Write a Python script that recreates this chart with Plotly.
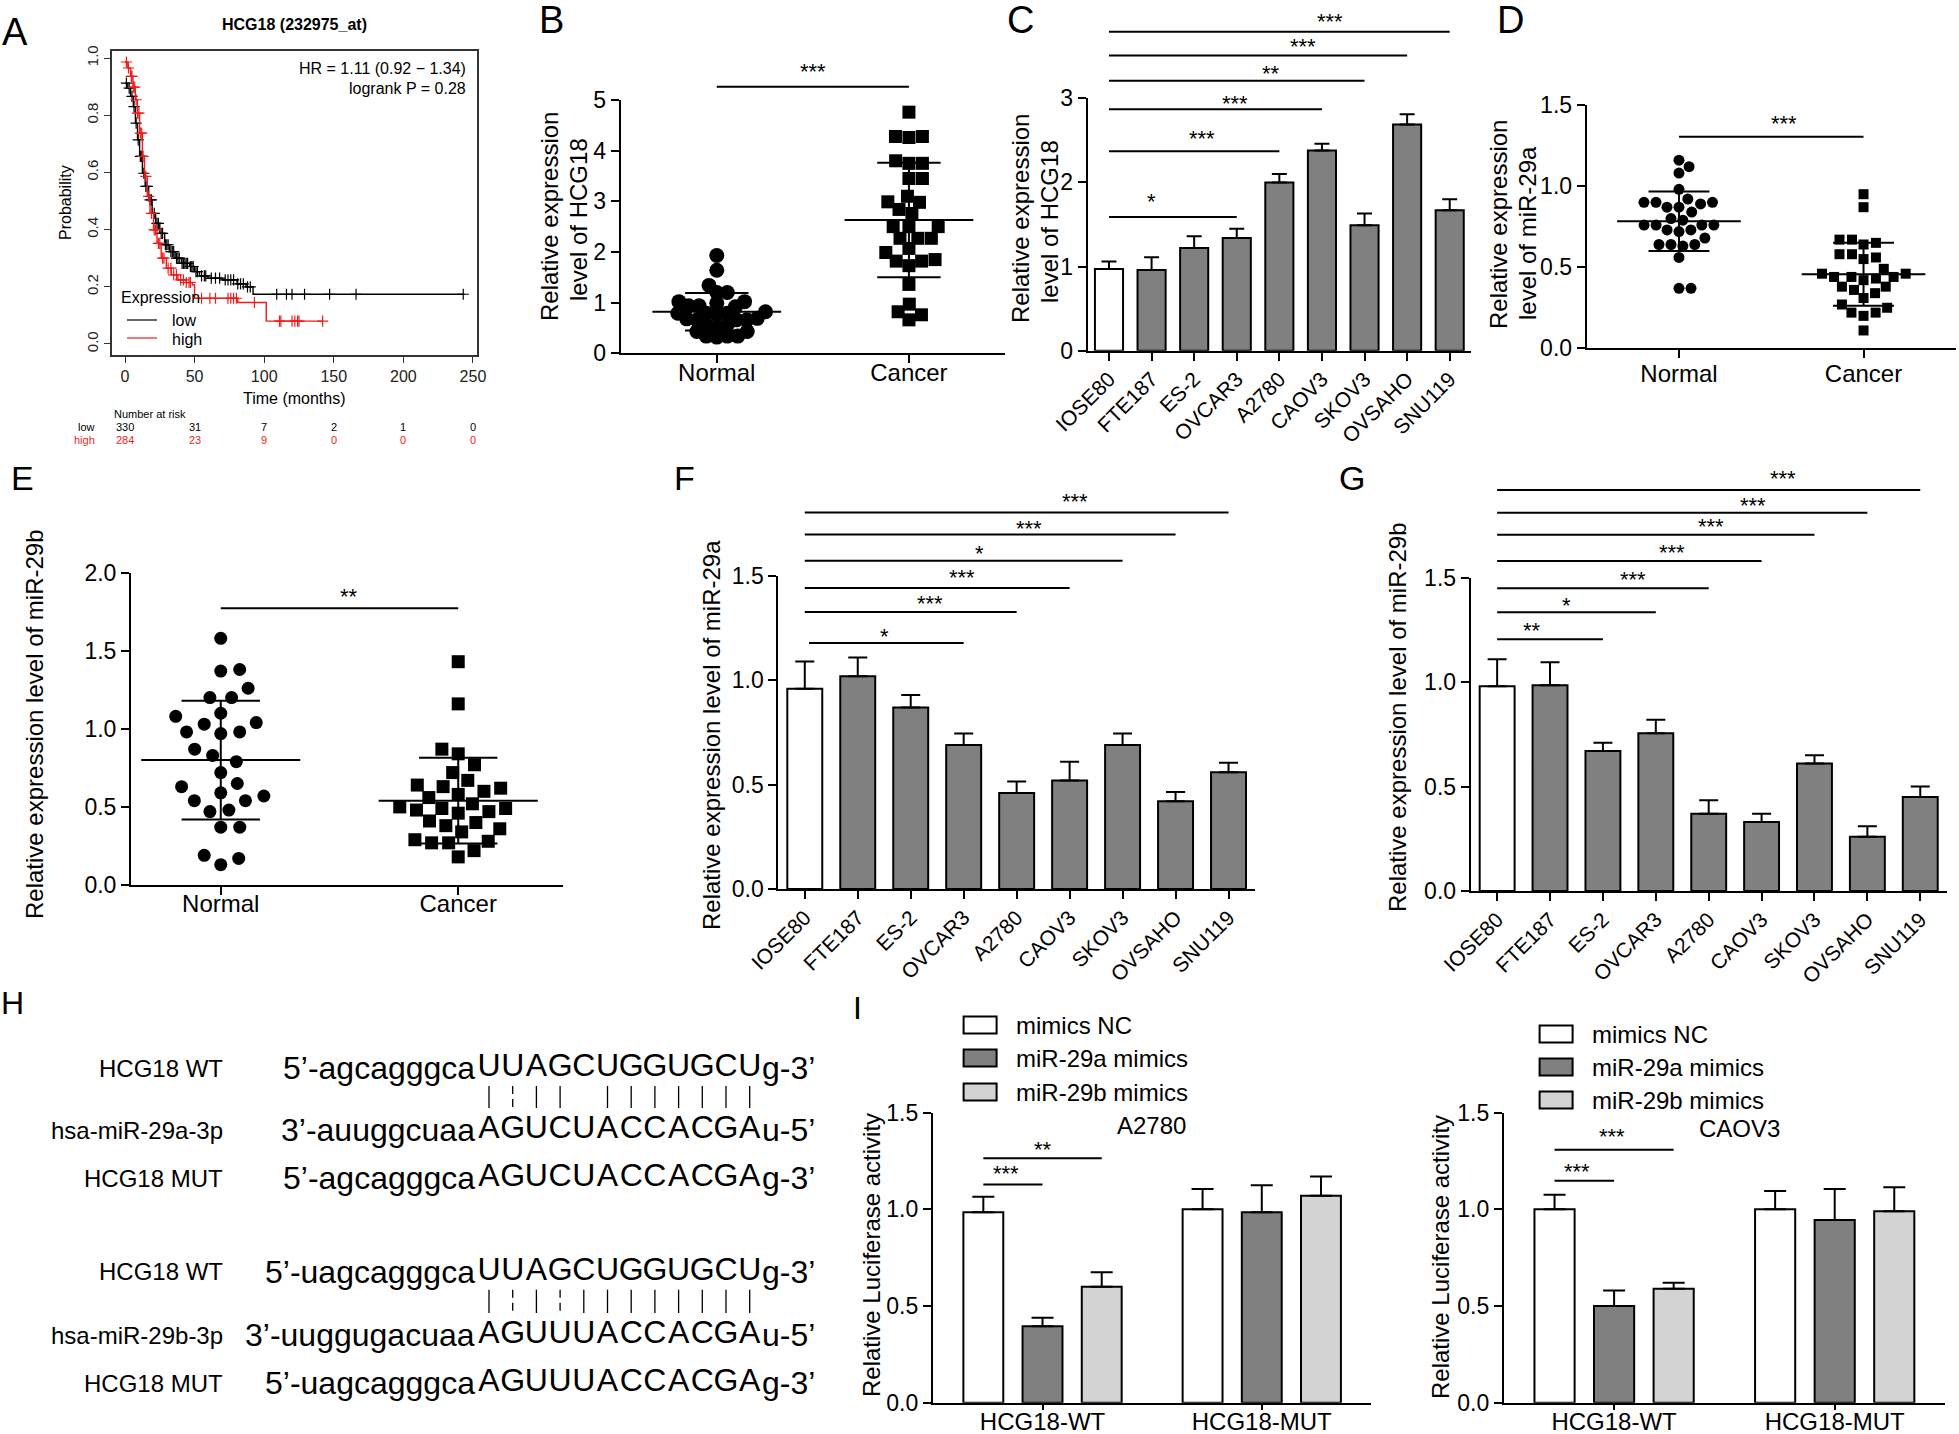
import plotly.graph_objects as go

W, H = 1959, 1434
FONT = "Liberation Sans, Arial, Helvetica, sans-serif"
GRAY = "#808080"
LIGHT = "#d3d3d3"

# ======================= DATA =======================
# --- Panel A : Kaplan-Meier (HCG18 232975_at) ---
km_low_t = [0, 2, 4, 6, 7.5, 9, 10.5, 12.5, 14.5, 17, 19.5, 22, 25, 28.5, 32, 36, 40.5, 46.5,
            50, 53.5, 59.5, 70, 80.5, 87, 92, 244]
km_low_s = [0.912, 0.895, 0.866, 0.83, 0.772, 0.714, 0.656, 0.597, 0.551, 0.504, 0.457, 0.422,
            0.387, 0.347, 0.323, 0.300, 0.282, 0.271, 0.253, 0.238, 0.23, 0.224, 0.21, 0.20,
            0.174, 0.174]
km_high_t = [0, 2, 4, 5.7, 7.4, 8.9, 10.5, 12.5, 14, 16, 18, 20.5, 23, 26, 29.7, 33.3, 38, 44,
             48.4, 50, 81, 101.5, 142]
km_high_s = [0.986, 0.965, 0.936, 0.898, 0.854, 0.807, 0.737, 0.656, 0.586, 0.516, 0.457, 0.399,
             0.352, 0.30, 0.265, 0.242, 0.224, 0.215, 0.207, 0.16, 0.145, 0.08, 0.08]
cens_low_t = [1, 3, 5, 6.5, 8, 9.5, 11, 12, 13.5, 15, 16, 18, 19, 21, 23, 24, 26, 27, 29, 30, 31,
              33, 34, 35, 37, 38, 39, 41, 42, 43, 44, 45, 47, 48, 49, 51, 52, 55, 57, 58, 62, 65,
              68, 72, 74, 76, 78, 81, 83, 85, 88, 90, 109, 116, 120, 129, 147, 166, 243]
cens_high_t = [1, 2.5, 4.5, 5, 6, 7, 8, 9, 10, 11, 12, 13, 15, 17, 19, 21, 22, 24, 25, 27, 28,
               31, 33, 35, 37, 40, 42, 44, 46, 47, 55, 61, 65, 74, 76, 78, 80, 93, 111, 112, 120,
               122, 124, 125, 142]
risk_times = [0, 50, 100, 150, 200, 250]
risk_low = [330, 31, 7, 2, 1, 0]
risk_high = [284, 23, 9, 0, 0, 0]

# --- Scatter panels ---
groups_nc = ["Normal", "Cancer"]
b_normal = [1.93, 1.64, 1.34, 1.20, 1.20, 1.02, 1.02, 0.92, 0.99, 0.94, 0.94, 0.76, 0.82, 0.79,
            0.79, 0.79, 0.66, 0.66, 0.69, 0.66, 0.68, 0.53, 0.56, 0.56, 0.43, 0.43, 0.34, 0.32,
            0.34, 0.34]
b_cancer = [4.76, 4.28, 4.26, 4.28, 3.75, 3.75, 3.80, 3.45, 3.45, 3.10, 2.98, 2.99, 2.76, 2.84,
            2.50, 2.50, 2.50, 2.27, 2.27, 2.27, 2.07, 1.85, 1.82, 1.82, 1.99, 1.73, 1.36, 0.82,
            0.97, 0.76, 0.66]
b_mean = [0.82, 2.63]
b_sd = [0.37, 1.13]

d_normal = [1.16, 1.12, 1.08, 0.98, 0.92, 0.90, 0.90, 0.90, 0.89, 0.87, 0.87, 0.84, 0.80, 0.79,
            0.76, 0.76, 0.76, 0.76, 0.73, 0.73, 0.72, 0.68, 0.64, 0.64, 0.64, 0.63, 0.56, 0.37,
            0.37]
d_cancer = [0.95, 0.87, 0.67, 0.67, 0.65, 0.64, 0.58, 0.58, 0.56, 0.55, 0.49, 0.46, 0.46, 0.44,
            0.44, 0.44, 0.43, 0.42, 0.38, 0.38, 0.36, 0.34, 0.31, 0.27, 0.25, 0.22, 0.22, 0.20,
            0.11]
d_mean = [0.783, 0.456]
d_sd = [0.183, 0.194]

e_normal = [1.58, 1.38, 1.37, 1.26, 1.20, 1.20, 1.10, 1.04, 1.03, 1.08, 0.98, 0.97, 0.98, 0.87,
            0.79, 0.83, 0.72, 0.63, 0.65, 0.57, 0.59, 0.54, 0.54, 0.48, 0.47, 0.37, 0.37, 0.19,
            0.17, 0.13]
e_cancer = [1.43, 1.16, 0.87, 0.84, 0.77, 0.72, 0.67, 0.64, 0.63, 0.62, 0.60, 0.58, 0.56, 0.52,
            0.50, 0.49, 0.49, 0.48, 0.47, 0.46, 0.41, 0.40, 0.38, 0.36, 0.34, 0.29, 0.28, 0.27,
            0.27, 0.22, 0.18]
e_mean = [0.80, 0.54]
e_sd = [0.38, 0.275]

# --- Bar panels (cell lines) ---
cell_lines = ["IOSE80", "FTE187", "ES-2", "OVCAR3", "A2780", "CAOV3", "SKOV3", "OVSAHO", "SNU119"]
c_vals = [0.97, 0.96, 1.22, 1.34, 2.00, 2.38, 1.49, 2.69, 1.67]
c_err = [0.09, 0.15, 0.14, 0.11, 0.10, 0.08, 0.14, 0.12, 0.13]
f_vals = [0.96, 1.02, 0.87, 0.69, 0.46, 0.52, 0.69, 0.42, 0.56]
f_err = [0.13, 0.09, 0.06, 0.055, 0.055, 0.09, 0.055, 0.045, 0.045]
g_vals = [0.98, 0.985, 0.67, 0.755, 0.37, 0.33, 0.61, 0.26, 0.45]
g_err = [0.13, 0.11, 0.04, 0.065, 0.065, 0.04, 0.04, 0.05, 0.05]

# --- Luciferase (I) ---
i_groups = ["HCG18-WT", "HCG18-MUT"]
i_series = ["mimics NC", "miR-29a mimics", "miR-29b mimics"]
i1_vals = [[0.985, 1.00], [0.395, 0.985], [0.60, 1.07]]
i1_err = [[0.08, 0.105], [0.045, 0.14], [0.075, 0.10]]
i2_vals = [[1.00, 1.00], [0.50, 0.945], [0.59, 0.99]]
i2_err = [[0.075, 0.095], [0.08, 0.16], [0.03, 0.125]]

# --- significance comparisons (index_from, index_to, bar height) and labels (text, x, y) ---
sig_b = [(0, 1, 5.26)];  lab_b = [("***", 0.5, 5.66)]
sig_c = [(0, 8, 3.79), (0, 7, 3.51), (0, 6, 3.21), (0, 5, 2.87), (0, 4, 2.37), (0, 3, 1.59)]
lab_c = [("***", 5.18, 3.97), ("***", 4.55, 3.67), ("**", 3.80, 3.35), ("***", 2.95, 3.0),
         ("***", 2.19, 2.58), ("*", 1.0, 1.83)]
sig_d = [(0, 1, 1.305)];  lab_d = [("***", 0.57, 1.415)]
sig_e = [(0, 1, 1.772)];  lab_e = [("**", 0.54, 1.88)]
sig_f = [(0, 8, 1.804), (0, 7, 1.699), (0, 6, 1.573), (0, 5, 1.442), (0, 4, 1.327), (0.08, 3, 1.179)]
lab_f = [("***", 5.10, 1.88), ("***", 4.24, 1.753), ("*", 3.30, 1.633), ("***", 2.96, 1.517),
         ("***", 2.36, 1.394), ("*", 1.51, 1.234)]
sig_g = [(0, 8, 1.92), (0, 7, 1.811), (0, 6, 1.706), (0, 5, 1.580), (0, 4, 1.449), (0, 3, 1.334),
         (0, 2, 1.205)]
lab_g = [("***", 5.41, 1.999), ("***", 4.83, 1.869), ("***", 4.04, 1.771), ("***", 3.31, 1.645),
         ("***", 2.56, 1.513), ("*", 1.31, 1.393), ("**", 0.65, 1.273)]
sig_i1 = [((0, 0), (0, 2), 1.264), ((0, 0), (0, 1), 1.129)]
lab_i1 = [("**", 0.0, 1.336), ("***", -0.167, 1.212)]
sig_i2 = [((0, 0), (0, 2), 1.309), ((0, 0), (0, 1), 1.148)]
lab_i2 = [("***", -0.01, 1.402), ("***", -0.17, 1.221)]

# --- Panel H sequences ---
h_labels = [["HCG18 WT", "hsa-miR-29a-3p", "HCG18 MUT"],
            ["HCG18 WT", "hsa-miR-29b-3p", "HCG18 MUT"]]
h_seqs = [[("5’-agcagggca", "UUAGCUGGUGCU", "g-3’"),
           ("3’-auuggcuaa", "AGUCUACCACGA", "u-5’"),
           ("5’-agcagggca", "AGUCUACCACGA", "g-3’")],
          [("5’-uagcagggca", "UUAGCUGGUGCU", "g-3’"),
           ("3’-uuggugacuaa", "AGUUUACCACGA", "u-5’"),
           ("5’-uagcagggca", "AGUUUACCACGA", "g-3’")]]
h_pairs = ["|:||.|||||||", "|:|:||||||||"]

# ======================= HELPERS =======================
fig = go.Figure()
layout = {}
ann = []
shapes = []


def xd(a, b):
    return [a / W, b / W]


def yd(top, bot):
    return [1 - bot / H, 1 - top / H]


def ref(letter, n):
    return letter if n == 1 else f"{letter}{n}"


def axname(letter, n):
    return f"{letter}axis" if n == 1 else f"{letter}axis{n}"


def txt(text, x, y, size=24, xanchor="center", yanchor="middle", angle=0, color="black",
        xref="paper", yref="paper", yshift=0):
    if xref == "paper":
        x = x / W
    if yref == "paper":
        y = 1 - y / H
    ann.append(dict(text=text, x=x, y=y, xref=xref, yref=yref, showarrow=False,
                    xanchor=xanchor, yanchor=yanchor, textangle=angle, yshift=yshift,
                    font=dict(family=FONT, size=size, color=color)))


GP = dict(showline=True, linecolor="black", linewidth=2, ticks="outside",
          tickwidth=2, tickcolor="black", showgrid=False, zeroline=False, fixedrange=True,
          automargin=False)


def gp_axes(n, xpx, ypx, xr, yr, yticks, yfmt, xvals, xtext, xangle=0, xsize=24, ysize=23,
            xstand=0, xticklen=8):
    layout[axname("x", n)] = dict(GP, domain=xd(*xpx), range=xr, anchor=ref("y", n),
                                  tickmode="array", tickvals=xvals, ticktext=xtext,
                                  tickangle=xangle, ticklen=xticklen, ticklabelstandoff=xstand,
                                  tickfont=dict(family=FONT, size=xsize, color="black"))
    layout[axname("y", n)] = dict(GP, domain=yd(*ypx), range=yr, anchor=ref("x", n),
                                  tickmode="array", tickvals=yticks, ticklen=8,
                                  ticktext=[yfmt.format(v) for v in yticks],
                                  tickfont=dict(family=FONT, size=ysize, color="black"))


def overlay(m, n, top_px, ypx, ytop):
    span = ytop * (ypx[1] - top_px) / (ypx[1] - ypx[0])
    layout[axname("y", m)] = dict(domain=yd(top_px, ypx[1]), range=[0, span],
                                  anchor=ref("x", n), visible=False, fixedrange=True,
                                  automargin=False)


def sig(n, ym, lines, labels, size=22):
    xs, ys = [], []
    for a, b, h in lines:
        xs += [a, b, None]
        ys += [h, h, None]
    fig.add_trace(go.Scatter(x=xs, y=ys, mode="lines", line=dict(color="black", width=2),
                             xaxis=ref("x", n), yaxis=ref("y", ym), showlegend=False,
                             hoverinfo="skip"))
    for t, x, y in labels:
        txt(t, x, y, size=size, xref=ref("x", n), yref=ref("y", ym), yshift=-5)


def swarm(vals, center, ppu_x, ppu_y, d):
    """compact beeswarm: positions in pixel space, returned in axis units"""
    order = sorted(range(len(vals)), key=lambda i: vals[i])
    placed = []
    xs = [center] * len(vals)
    for i in order:
        y = vals[i] * ppu_y
        near = [(px, py) for px, py in placed if abs(py - y) < d]
        cands = [0.0]
        for px, py in near:
            w = (d * d - (py - y) ** 2) ** 0.5
            cands += [px + w + 0.01, px - w - 0.01]
        best = 0.0
        for c in sorted(cands, key=lambda c: (round(abs(c), 3), -c)):
            if all((c - px) ** 2 + (y - py) ** 2 >= d * d - 1e-6 for px, py in near):
                best = c
                break
        placed.append((best, y))
        xs[i] = center + best / ppu_x
    return xs


def dot_panel(n, data, means, sds, symbols, sizes, xpx, ypx, xr, yr, gap_px):
    ppu_y = (ypx[1] - ypx[0]) / (yr[1] - yr[0])
    ppu_x = (xpx[1] - xpx[0]) / (xr[1] - xr[0])
    for gi, vals in enumerate(data):
        xs = swarm(vals, gi, ppu_x, ppu_y, gap_px[gi])
        fig.add_trace(go.Scatter(x=xs, y=vals, mode="markers", cliponaxis=False,
                                 marker=dict(symbol=symbols[gi], size=sizes[gi], color="black",
                                             line=dict(width=0)),
                                 xaxis=ref("x", n), yaxis=ref("y", n), showlegend=False,
                                 hoverinfo="skip"))
        m, s = means[gi], sds[gi]
        fig.add_trace(go.Scatter(
            x=[gi - 0.335, gi + 0.335, None, gi - 0.165, gi + 0.165, None,
               gi - 0.165, gi + 0.165, None, gi, gi],
            y=[m, m, None, m + s, m + s, None, m - s, m - s, None, m - s, m + s],
            mode="lines", line=dict(color="black", width=2), xaxis=ref("x", n),
            yaxis=ref("y", n), showlegend=False, hoverinfo="skip"))


def bar_panel(n, vals, errs, cap):
    fig.add_trace(go.Bar(x=list(range(len(vals))), y=vals, width=0.66,
                         marker=dict(color=["white"] + [GRAY] * (len(vals) - 1),
                                     line=dict(color="black", width=2)),
                         error_y=dict(type="data", array=errs, arrayminus=[0] * len(errs),
                                      symmetric=False, color="black", thickness=2, width=cap),
                         xaxis=ref("x", n), yaxis=ref("y", n), showlegend=False,
                         hoverinfo="skip"))


def step_at(ts, ss, t):
    val = ss[0]
    for tt, sv in zip(ts, ss):
        if tt <= t:
            val = sv
        else:
            break
    return val


# ======================= PANEL A =======================
A_X, A_Y = (112, 477), (51, 355)
AXC = "#333333"
layout["xaxis"] = dict(domain=xd(*A_X), range=[-9.34, 252.9], anchor="y", showline=True,
                       mirror=True, linecolor=AXC, linewidth=1.5, ticks="outside", ticklen=6,
                       tickwidth=1.2, tickcolor=AXC, showgrid=False, zeroline=False,
                       tickvals=risk_times, fixedrange=True, automargin=False,
                       tickfont=dict(family=FONT, size=16, color="#222"))
yt_a = [0, 0.2, 0.4, 0.6, 0.8, 1.0]
layout["yaxis"] = dict(domain=yd(*A_Y), range=[-0.0385, 1.0245], anchor="x", showline=True,
                       mirror=True, linecolor=AXC, linewidth=1.5, ticks="outside", ticklen=6,
                       tickwidth=1.2, tickcolor=AXC, showgrid=False, zeroline=False,
                       tickvals=yt_a, ticktext=[f"{v:.1f}" for v in yt_a], tickangle=-90,
                       fixedrange=True, automargin=False,
                       tickfont=dict(family=FONT, size=15, color="#222"))
for ts, ss, cens, col in [(km_low_t, km_low_s, cens_low_t, "black"),
                          (km_high_t, km_high_s, cens_high_t, "#ee1c1c")]:
    fig.add_trace(go.Scatter(x=ts, y=ss, mode="lines", line=dict(color=col, width=1.4, shape="hv"),
                             xaxis="x", yaxis="y", showlegend=False, hoverinfo="skip"))
    fig.add_trace(go.Scatter(x=cens, y=[step_at(ts, ss, t) for t in cens], mode="markers",
                             marker=dict(symbol="cross-thin", size=8, line=dict(width=1.2, color=col)),
                             xaxis="x", yaxis="y", showlegend=False, hoverinfo="skip"))
txt("<b>HCG18 (232975_at)</b>", 294, 25, size=16)
txt("HR = 1.11 (0.92 − 1.34)", 468, 68, size=16, xanchor="right")
txt("logrank P = 0.28", 468, 88, size=16, xanchor="right")
txt("Probability", 65, 203, size=16, angle=-90)
txt("Time (months)", 294, 399, size=16)
txt("Expression", 119, 297, size=16, xanchor="left")
txt("low", 170, 320, size=16, xanchor="left")
txt("high", 170, 339, size=16, xanchor="left")
shapes.append(dict(type="line", xref="paper", yref="paper", x0=127 / W, x1=157 / W,
                   y0=1 - 320 / H, y1=1 - 320 / H, line=dict(color="black", width=1.2)))
shapes.append(dict(type="line", xref="paper", yref="paper", x0=127 / W, x1=157 / W,
                   y0=1 - 338 / H, y1=1 - 338 / H, line=dict(color="#ee1c1c", width=1.2)))
txt("Number at risk", 112, 414, size=11, xanchor="left")
txt("low", 97, 427, size=11, xanchor="right")
txt("high", 97, 440, size=11, xanchor="right", color="#ee1c1c")
for t, lo, hi in zip(risk_times, risk_low, risk_high):
    txt(str(lo), t, 427, size=11, xref="x")
    txt(str(hi), t, 440, size=11, xref="x", color="#ee1c1c")

# ======================= PANEL B =======================
B_X, B_Y = (620.7, 1005), (100, 353.3)
gp_axes(2, B_X, B_Y, [-0.5, 1.5], [0, 5], [0, 1, 2, 3, 4, 5], "{:.0f}", [0, 1], groups_nc,
        xstand=-11)
dot_panel(2, [b_normal, b_cancer], b_mean, b_sd, ["circle", "square"], [15, 13],
          B_X, B_Y, [-0.5, 1.5], [0, 5], [10.5, 13.5])
overlay(12, 2, 50, B_Y, 5)
sig(2, 12, sig_b, lab_b)
txt("Relative expression", 550, 217, angle=-90)
txt("level of HCG18", 578, 220, angle=-90)

# ======================= PANEL C =======================
C_X, C_Y = (1087.7, 1471), (98.3, 350.7)
gp_axes(3, C_X, C_Y, [-0.5, 8.5], [0, 3], [0, 1, 2, 3], "{:.0f}", list(range(9)), cell_lines,
        xangle=-45, xsize=21, xstand=-2)
bar_panel(3, c_vals, c_err, 7.5)
overlay(11, 3, 4, C_Y, 3)
sig(3, 11, sig_c, lab_c)
txt("Relative expression", 1020, 219, angle=-90)
txt("level of HCG18", 1049, 222, angle=-90)

# ======================= PANEL D =======================
D_X, D_Y = (1586.7, 1955.8), (105, 348.3)
gp_axes(4, D_X, D_Y, [-0.5, 1.5], [0, 1.5], [0, 0.5, 1.0, 1.5], "{:.1f}", [0, 1], groups_nc,
        xstand=-5)
dot_panel(4, [d_normal, d_cancer], d_mean, d_sd, ["circle", "square"], [11, 10],
          D_X, D_Y, [-0.5, 1.5], [0, 1.5], [12, 12.5])
sig(4, 4, sig_d, lab_d)
txt("Relative expression", 1498, 225, angle=-90)
txt("level of miR-29a", 1527, 233, angle=-90)

# ======================= PANEL E =======================
E_X, E_Y = (131, 562.7), (572.7, 885)
E_XR = [-0.378, 1.44]
gp_axes(5, E_X, E_Y, E_XR, [0, 2], [0, 0.5, 1.0, 1.5, 2.0], "{:.1f}", [0, 1], groups_nc,
        xstand=-12)
dot_panel(5, [e_normal, e_cancer], e_mean, e_sd, ["circle", "square"], [13, 13],
          E_X, E_Y, E_XR, [0, 2], [19, 17])
sig(5, 5, sig_e, lab_e)
txt("Relative expression level of miR-29b", 34, 724, angle=-90)

# ======================= PANEL F =======================
F_X, F_Y = (778.3, 1255), (576, 889)
gp_axes(6, F_X, F_Y, [-0.5, 8.5], [0, 1.5], [0, 0.5, 1.0, 1.5], "{:.1f}", list(range(9)),
        cell_lines, xangle=-45, xsize=21, xstand=-2)
bar_panel(6, f_vals, f_err, 9.5)
overlay(13, 6, 478, F_Y, 1.5)
sig(6, 13, sig_f, lab_f)
txt("Relative expression level of miR-29a", 711, 735, angle=-90)

# ======================= PANEL G =======================
G_X, G_Y = (1470.7, 1946.7), (577.7, 891)
gp_axes(7, G_X, G_Y, [-0.5, 8.5], [0, 1.5], [0, 0.5, 1.0, 1.5], "{:.1f}", list(range(9)),
        cell_lines, xangle=-45, xsize=21, xstand=-2)
bar_panel(7, g_vals, g_err, 9.5)
overlay(14, 7, 462, G_Y, 1.5)
sig(7, 14, sig_g, lab_g)
txt("Relative expression level of miR-29b", 1397, 717, angle=-90)

# ======================= PANEL I =======================
OFF = 0.27
BW = 0.182
fills = ["white", GRAY, LIGHT]


def lucif_panel(n, xpx, vals, errs, sigs, labs, cell, cell_xy, leg_x, leg_y):
    I_Y = (1112.7, 1402.7)
    gp_axes(n, xpx, I_Y, [-0.5, 1.5], [0, 1.5], [0, 0.5, 1.0, 1.5], "{:.1f}", [0, 1], i_groups,
            xstand=-9, xticklen=5)
    for k in range(3):
        fig.add_trace(go.Bar(x=[0, 1], y=vals[k], width=BW, offset=(k - 1) * OFF - BW / 2,
                             marker=dict(color=fills[k], line=dict(color="black", width=2)),
                             error_y=dict(type="data", array=errs[k], arrayminus=[0, 0],
                                          symmetric=False, color="black", thickness=2, width=11),
                             xaxis=ref("x", n), yaxis=ref("y", n), showlegend=False,
                             hoverinfo="skip"))
    lines = [(g0 + (s0 - 1) * OFF, g1 + (s1 - 1) * OFF, h) for (g0, s0), (g1, s1), h in sigs]
    sig(n, n, lines, labs)
    txt(cell, cell_xy[0], cell_xy[1], xref=ref("x", n), yref=ref("y", n))
    for k, name in enumerate(i_series):
        cy = leg_y[k]
        shapes.append(dict(type="rect", xref="paper", yref="paper", x0=leg_x / W,
                           x1=(leg_x + 33) / W, y0=1 - (cy + 8.5) / H, y1=1 - (cy - 8.5) / H,
                           fillcolor=fills[k], line=dict(color="black", width=2)))
        txt(name, leg_x + 50, cy, xanchor="left")


lucif_panel(8, (932.9, 1371.4), i1_vals, i1_err, sig_i1, lab_i1, "A2780", (0.496, 1.433),
            963.6, [1025, 1058, 1092])
txt("Relative Luciferase activity", 871, 1255, angle=-90)
lucif_panel(9, (1503.8, 1945), i2_vals, i2_err, sig_i2, lab_i2, "CAOV3", (0.57, 1.416),
            1539.6, [1034, 1067, 1100])
txt("Relative Luciferase activity", 1440, 1257, angle=-90)

# ======================= PANEL H =======================
H_X0, H_STEP = 489, 23.7         # pixel centre of first paired letter, letter pitch
H_ROW_Y = [[83, 145, 193], [286.7, 350, 398.3]]
layout["xaxis10"] = dict(domain=xd(0, 850), range=[-H_X0 / H_STEP, (850 - H_X0) / H_STEP],
                         anchor="y10", visible=False, fixedrange=True, automargin=False)
layout["yaxis10"] = dict(domain=yd(985, 1434), range=[449, 0], anchor="x10", visible=False,
                         fixedrange=True, automargin=False)
SEQ = 32
for b in range(2):
    for r in range(3):
        yrow = H_ROW_Y[b][r]
        pre, core, suf = h_seqs[b][r]
        txt(h_labels[b][r], 225, 985 + yrow, size=24, xanchor="right")
        txt(pre, -0.52, yrow, size=SEQ, xanchor="right", xref="x10", yref="y10")
        txt(suf, len(core) - 0.55, yrow, size=SEQ, xanchor="left", xref="x10", yref="y10")
        fig.add_trace(go.Scatter(x=list(range(len(core))), y=[yrow] * len(core), mode="text",
                                 text=list(core), textposition="middle center",
                                 textfont=dict(family=FONT, size=SEQ, color="black"),
                                 cliponaxis=False, xaxis="x10", yaxis="y10", showlegend=False,
                                 hoverinfo="skip"))
    y0, y1 = H_ROW_Y[b][0] + 18, H_ROW_Y[b][1] - 22
    solid_x, solid_y, dash_x, dash_y = [], [], [], []
    for i, ch in enumerate(h_pairs[b]):
        if ch == "|":
            solid_x += [i, i, None]; solid_y += [y0, y1, None]
        elif ch == ":":
            dash_x += [i, i, None]; dash_y += [y0, y1, None]
    fig.add_trace(go.Scatter(x=solid_x, y=solid_y, mode="lines", line=dict(color="black", width=1.3),
                             xaxis="x10", yaxis="y10", showlegend=False, hoverinfo="skip"))
    fig.add_trace(go.Scatter(x=dash_x, y=dash_y, mode="lines",
                             line=dict(color="black", width=1.3, dash="8px,5px"),
                             xaxis="x10", yaxis="y10", showlegend=False, hoverinfo="skip"))

# ======================= PANEL LETTERS =======================
for letter, x, y, s in [("A", 15, 32, 38), ("B", 551, 20, 38), ("C", 1020, 20, 38),
                        ("D", 1510, 20, 38), ("E", 22, 478, 34), ("F", 684, 478, 34),
                        ("G", 1352, 478, 34), ("H", 12, 1003, 32), ("I", 857, 1008, 32)]:
    txt(letter, x, y, size=s)

fig.update_layout(width=W, height=H, autosize=False,
                  margin=dict(l=0, r=0, t=0, b=0, pad=0, autoexpand=False),
                  paper_bgcolor="white", plot_bgcolor="rgba(0,0,0,0)", showlegend=False,
                  barmode="overlay", annotations=ann, shapes=shapes, **layout)
fig.write_html("out.html", config={"displayModeBar": False, "responsive": False},
               post_script="document.body.style.margin='0px';")
